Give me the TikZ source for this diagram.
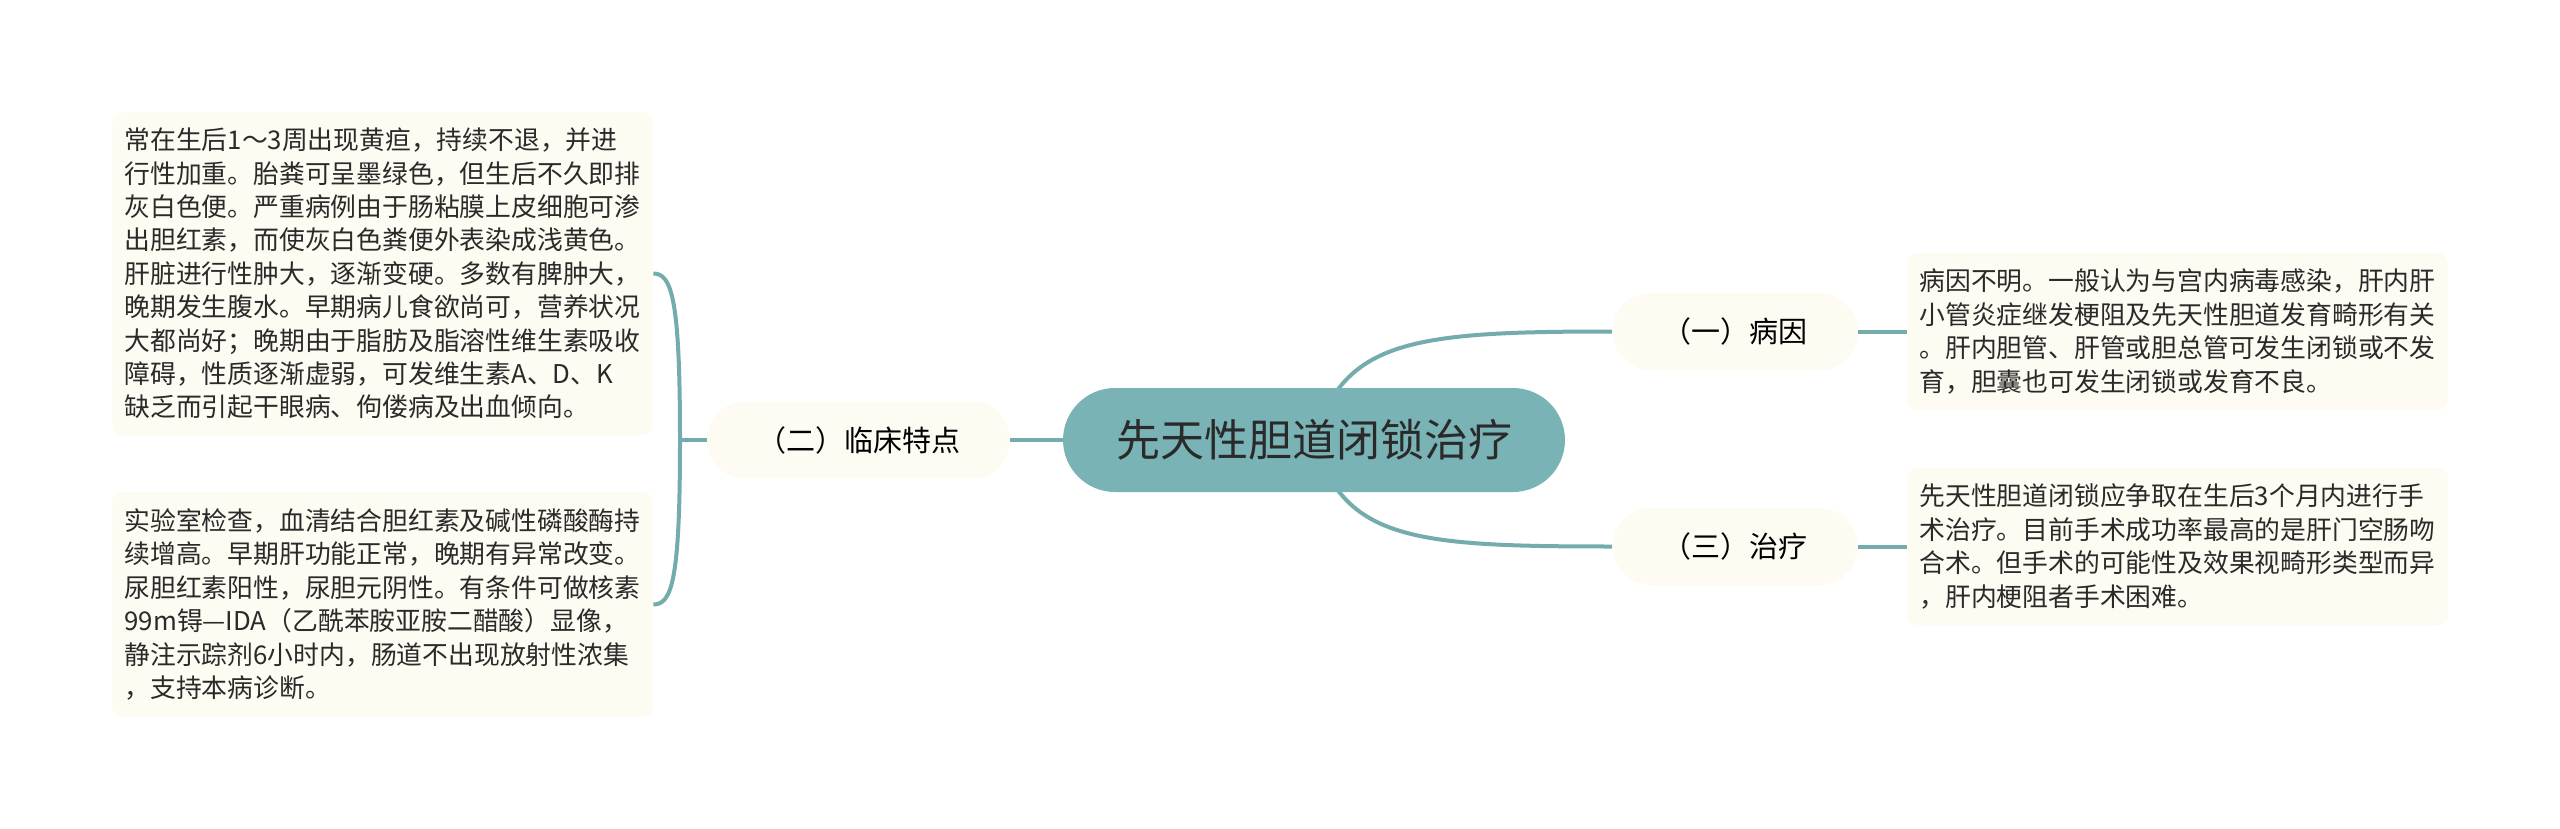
\documentclass[tikz,border=0pt]{standalone}
\usepackage{fontspec}
\setmainfont{Noto Sans CJK SC}
\usetikzlibrary{backgrounds}

\definecolor{tealfill}{HTML}{7AB3B5}
\definecolor{tealline}{HTML}{74ABAD}
\definecolor{creamfill}{HTML}{FDFBF2}
\definecolor{inkgray}{HTML}{2A2A2A}

\tikzset{
  rootnode/.style={fill=tealfill, rounded corners=26pt, minimum height=52pt,
    inner xsep=26.5pt, inner ysep=0pt, text=inkgray,
    font=\fontsize{22pt}{26pt}\selectfont},
  topicnode/.style={fill=creamfill, rounded corners=19pt, minimum height=38.5pt,
    inner xsep=25pt, inner ysep=0pt, text=black,
    font=\fontsize{14.5pt}{17pt}\selectfont},
  notenode/.style={fill=creamfill, rounded corners=5pt, text width=258pt,
    inner xsep=6.25pt, align=left, text=inkgray,
    font=\fontsize{12.9pt}{16.7pt}\selectfont},
  branch/.style={draw=tealline, line width=2pt},
}

\begin{document}
\begin{tikzpicture}[x=0.5pt, y=-0.5pt]
  \useasboundingbox (0,0) rectangle (2560,829);

  \node[rootnode] (root) at (1314,440) {先天性胆道闭锁治疗};

  \node[topicnode] (cause) at (1735,331.5) {（一）病因};
  \node[topicnode] (clinic) at (858.5,440) {（二）临床特点};
  \node[topicnode] (cure) at (1735,546.5) {（三）治疗};

  \node[notenode, minimum height=161.5pt] (clinica) at (382.5,273.5) {常在生后1～3周出现黄疸，持续不退，并进\\
    行性加重。胎粪可呈墨绿色，但生后不久即排\\
    灰白色便。严重病例由于肠粘膜上皮细胞可渗\\
    出胆红素，而使灰白色粪便外表染成浅黄色。\\
    肝脏进行性肿大，逐渐变硬。多数有脾肿大，\\
    晚期发生腹水。早期病儿食欲尚可，营养状况\\
    大都尚好；晚期由于脂肪及脂溶性维生素吸收\\
    障碍，性质逐渐虚弱，可发维生素A、D、K\\
    缺乏而引起干眼病、佝偻病及出血倾向。};
  \node[notenode, minimum height=112.5pt] (clinicb) at (382.5,604.5) {实验室检查，血清结合胆红素及碱性磷酸酶持\\
    续增高。早期肝功能正常，晚期有异常改变。\\
    尿胆红素阳性，尿胆元阴性。有条件可做核素\\
    99m锝—IDA（乙酰苯胺亚胺二醋酸）显像，\\
    静注示踪剂6小时内，肠道不出现放射性浓集\\
    ，支持本病诊断。};
  \node[notenode, minimum height=78.5pt] (causenote) at (2177.5,331.5) {病因不明。一般认为与宫内病毒感染，肝内肝\\
    小管炎症继发梗阻及先天性胆道发育畸形有关\\
    。肝内胆管、肝管或胆总管可发生闭锁或不发\\
    育，胆囊也可发生闭锁或发育不良。};
  \node[notenode, minimum height=78.5pt] (curenote) at (2177.5,546.5) {先天性胆道闭锁应争取在生后3个月内进行手\\
    术治疗。目前手术成功率最高的是肝门空肠吻\\
    合术。但手术的可能性及效果视畸形类型而异\\
    ，肝内梗阻者手术困难。};

  \begin{scope}[on background layer]
    \draw[branch] (root.center) .. controls +(30,-100) and +(-200,0) .. (cause.west);
    \draw[branch] (root.center) .. controls +(30,100) and +(-200,0) .. (cure.west);
  \end{scope}
  \draw[branch] (clinic) -- (root);
  \draw[branch] (cause) -- (causenote);
  \draw[branch] (cure) -- (curenote);

  \coordinate (fork) at (680,440);
  \draw[branch] (clinic.west) -- (fork);
  \draw[branch] (fork) .. controls (680,300) and (672,273.5) .. (clinica.east);
  \draw[branch] (fork) .. controls (680,580) and (672,604.5) .. (clinicb.east);
\end{tikzpicture}
\end{document}
